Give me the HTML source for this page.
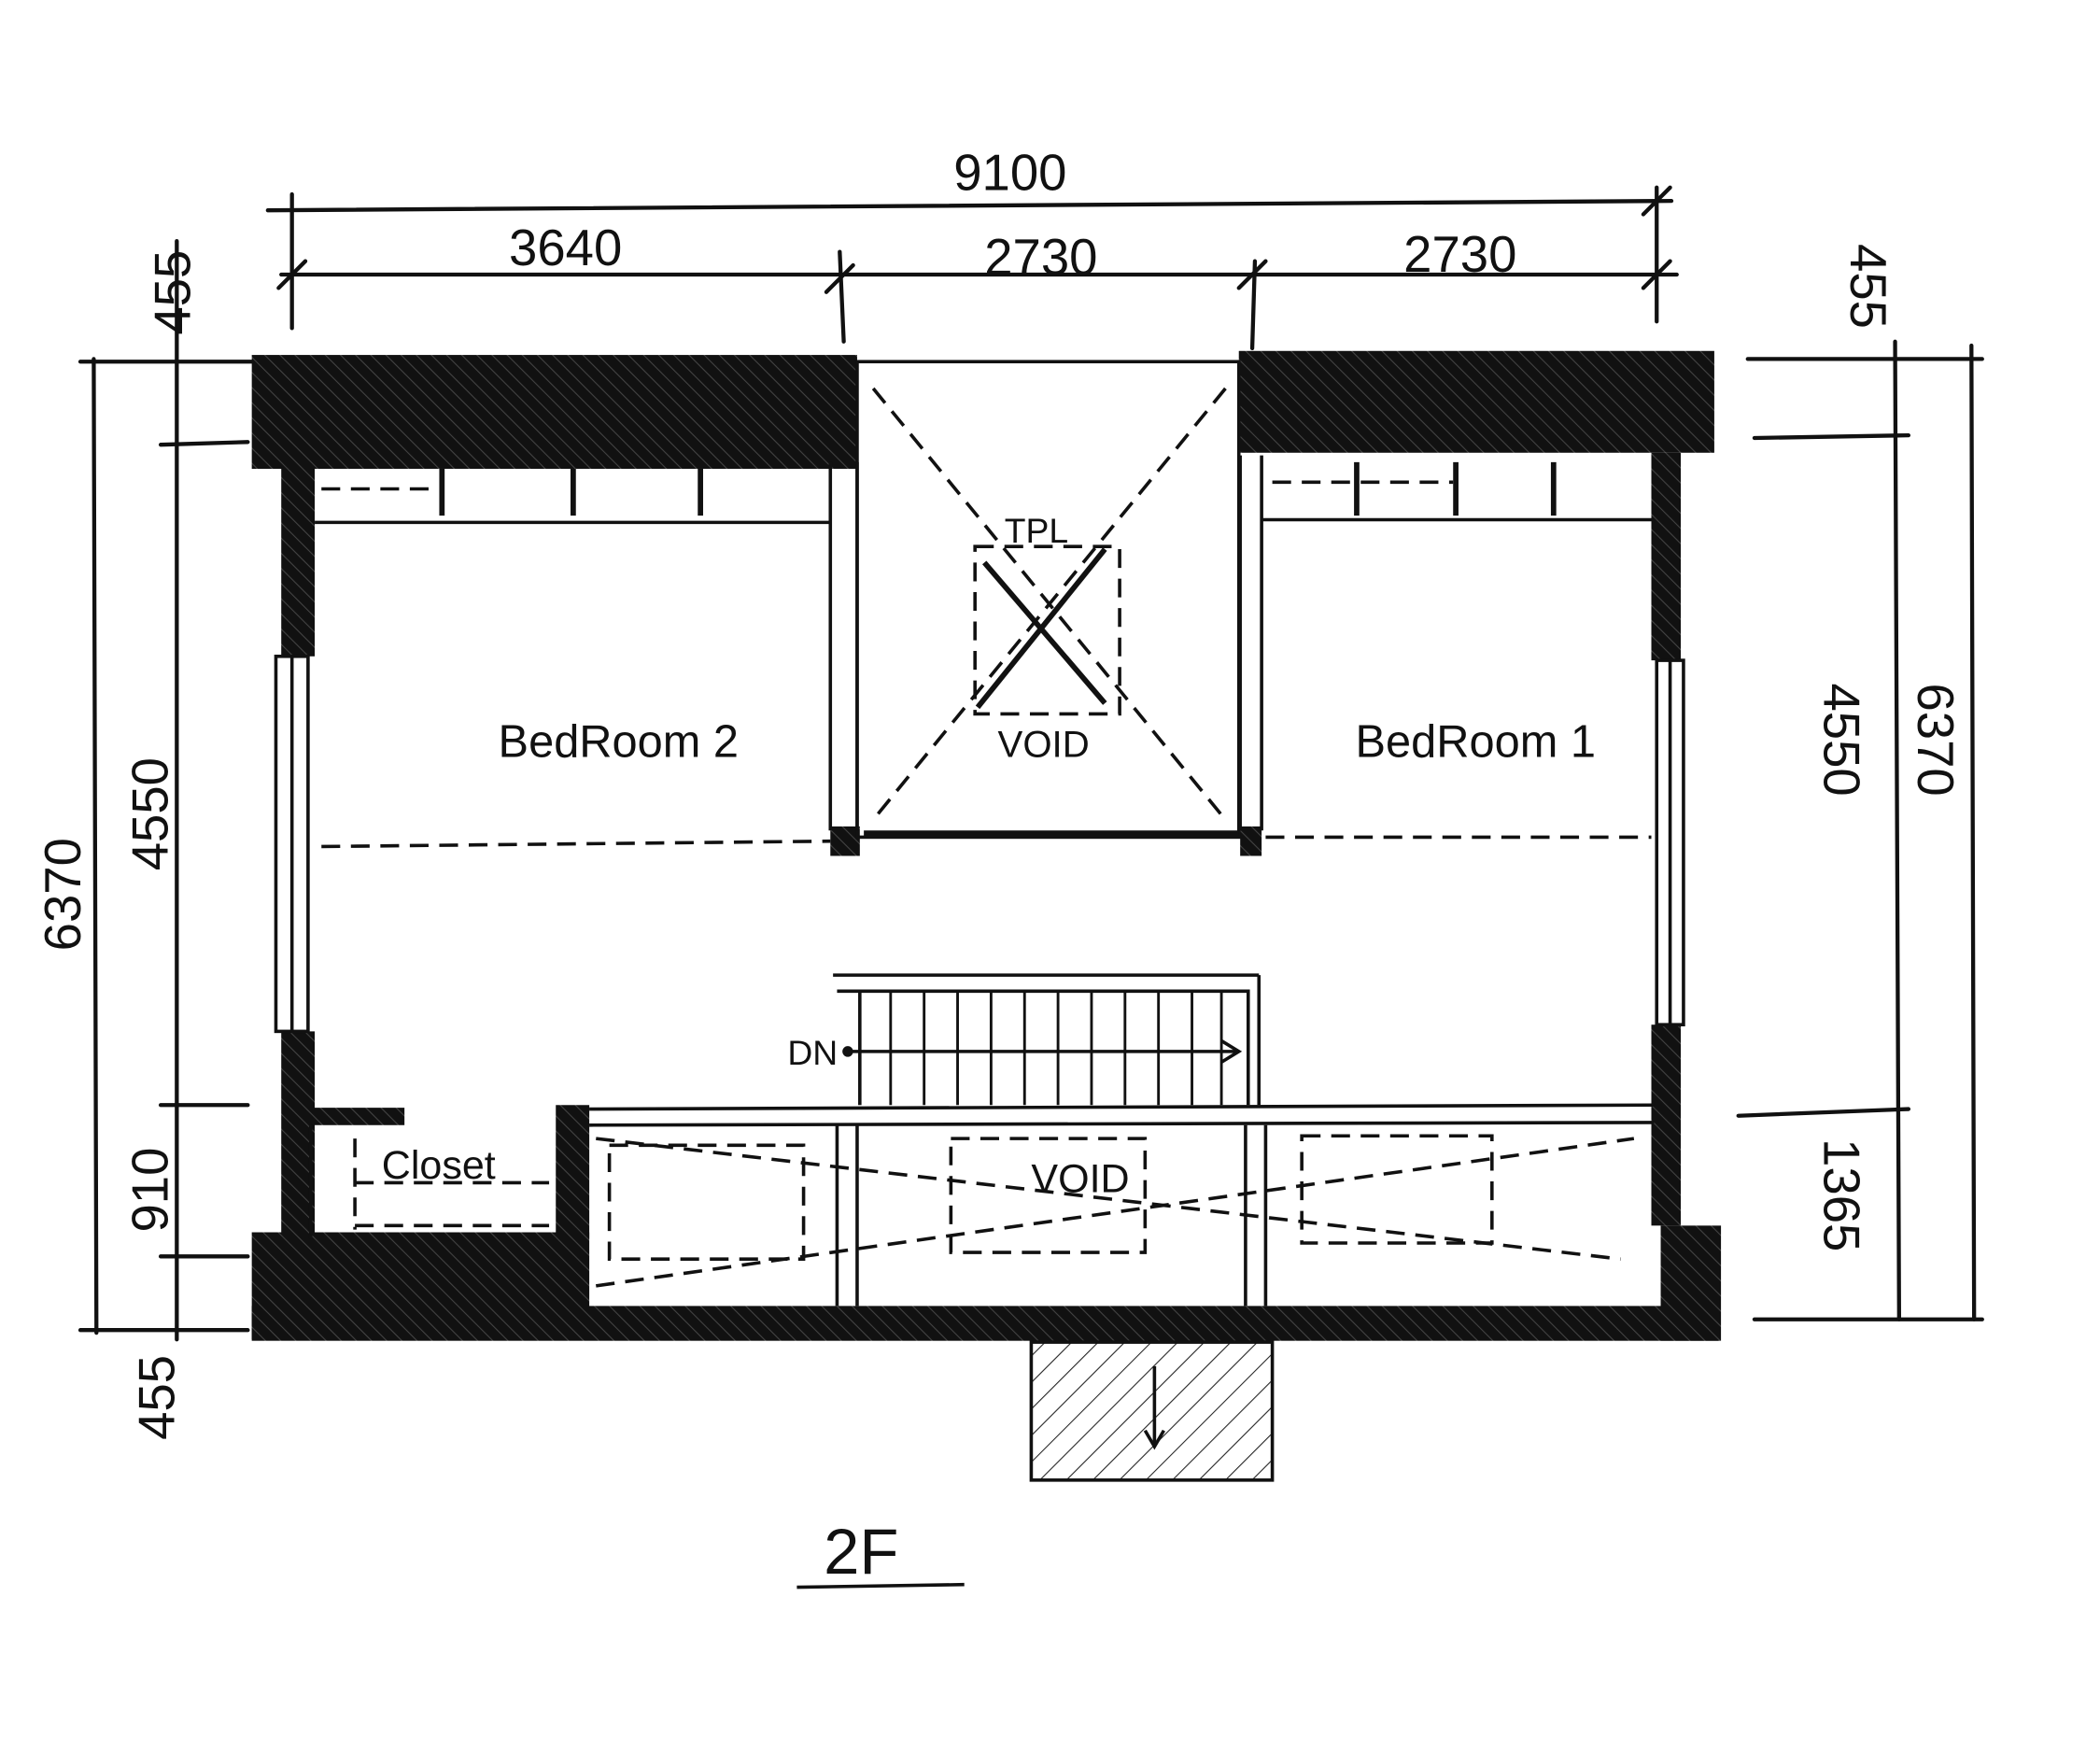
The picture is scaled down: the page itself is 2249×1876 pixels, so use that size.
<!DOCTYPE html>
<html><head><meta charset="utf-8"><style>
html,body{margin:0;padding:0;background:#fff;}
svg{display:block}
text{font-family:"Liberation Sans",sans-serif;fill:#111;}
</style></head><body>
<svg width="2249" height="1876" viewBox="0 0 1568 1308" preserveAspectRatio="none" xmlns="http://www.w3.org/2000/svg">
<defs>
<pattern id="h" width="8" height="8" patternUnits="userSpaceOnUse" patternTransform="rotate(-45)">
<rect width="8" height="8" fill="#111"/><line x1="0" y1="0" x2="0" y2="8" stroke="#444" stroke-width="1.5"/></pattern>
<pattern id="h2" width="14" height="14" patternUnits="userSpaceOnUse" patternTransform="rotate(45)">
<line x1="0" y1="0" x2="0" y2="14" stroke="#222" stroke-width="1.5"/></pattern>
</defs>
<g stroke="#111" stroke-width="3" fill="none" stroke-linecap="round">
<line x1="200" y1="157" x2="1248" y2="150"/>
<line x1="210" y1="205" x2="1252" y2="205"/>
<line x1="218" y1="145" x2="218" y2="245"/>
<line x1="627" y1="188" x2="630" y2="255"/>
<line x1="937" y1="195" x2="935" y2="260"/>
<line x1="1237" y1="140" x2="1237" y2="240"/>
<line x1="208" y1="215" x2="228" y2="195"/><line x1="617" y1="218" x2="637" y2="198"/>
<line x1="925" y1="215" x2="945" y2="195"/><line x1="1227" y1="215" x2="1247" y2="195"/>
<line x1="1227" y1="160" x2="1247" y2="140"/>
<line x1="70" y1="268" x2="72" y2="995"/>
<line x1="132" y1="180" x2="132" y2="1000"/>
<line x1="60" y1="270" x2="190" y2="270"/>
<line x1="120" y1="332" x2="185" y2="330"/>
<line x1="120" y1="825" x2="185" y2="825"/>
<line x1="120" y1="938" x2="185" y2="938"/>
<line x1="60" y1="993" x2="185" y2="993"/>
<line x1="1415" y1="255" x2="1418" y2="985"/>
<line x1="1472" y1="258" x2="1474" y2="985"/>
<line x1="1305" y1="268" x2="1480" y2="268"/>
<line x1="1310" y1="327" x2="1425" y2="325"/>
<line x1="1298" y1="833" x2="1425" y2="828"/>
<line x1="1310" y1="985" x2="1480" y2="985"/>
</g>
<g font-size="38">
<text x="712" y="142">9100</text>
<text x="380" y="198">3640</text>
<text x="735" y="205">2730</text>
<text x="1048" y="203">2730</text>
<text transform="translate(142,250) rotate(-90)">455</text>
<text transform="translate(1382,182) rotate(90)">455</text>
<text transform="translate(60,710) rotate(-90)">6370</text>
<text transform="translate(125,650) rotate(-90)">4550</text>
<text transform="translate(125,920) rotate(-90)">910</text>
<text transform="translate(130,1075) rotate(-90)">455</text>
<text transform="translate(1362,510) rotate(90)">4550</text>
<text transform="translate(1432,510) rotate(90)">6370</text>
<text transform="translate(1362,850) rotate(90)">1365</text>
</g>
<g fill="url(#h)">
<rect x="188" y="265" width="452" height="85"/>
<rect x="925" y="262" width="355" height="76"/>
<rect x="210" y="340" width="25" height="150"/>
<rect x="210" y="770" width="25" height="160"/>
<rect x="1233" y="338" width="22" height="155"/>
<rect x="1233" y="765" width="22" height="150"/>
<rect x="188" y="920" width="252" height="80"/>
<rect x="188" y="975" width="1095" height="26"/>
<rect x="1240" y="915" width="45" height="86"/>
<rect x="415" y="825" width="25" height="100"/>
<rect x="232" y="827" width="70" height="13"/>
<rect x="620" y="617" width="22" height="22"/>
<rect x="926" y="617" width="16" height="22"/>
</g>
<g stroke="#111" stroke-width="2.5" fill="none">
<rect x="640" y="270" width="285" height="355"/>
<line x1="620" y1="345" x2="620" y2="620"/><line x1="640" y1="345" x2="640" y2="620"/>
<line x1="926" y1="340" x2="926" y2="620"/><line x1="942" y1="340" x2="942" y2="620"/>
<line x1="645" y1="622" x2="925" y2="622" stroke-width="4"/>
<line x1="235" y1="390" x2="620" y2="390"/><line x1="942" y1="388" x2="1233" y2="388"/>
<line x1="330" y1="350" x2="330" y2="385" stroke-width="4"/><line x1="428" y1="350" x2="428" y2="385" stroke-width="4"/><line x1="523" y1="350" x2="523" y2="385" stroke-width="4"/>
<line x1="1013" y1="345" x2="1013" y2="385" stroke-width="4"/><line x1="1087" y1="345" x2="1087" y2="385" stroke-width="4"/><line x1="1160" y1="345" x2="1160" y2="385" stroke-width="4"/>
<rect x="206" y="490" width="24" height="280"/><line x1="218" y1="490" x2="218" y2="770"/>
<rect x="1237" y="493" width="20" height="272"/><line x1="1247" y1="493" x2="1247" y2="765"/>
<line x1="232" y1="840" x2="232" y2="925"/>
<g stroke-dasharray="14 8">
<line x1="240" y1="365" x2="325" y2="365"/><line x1="950" y1="360" x2="1085" y2="360"/>
<line x1="240" y1="632" x2="620" y2="628"/><line x1="945" y1="625" x2="1233" y2="625"/>
<rect x="728" y="408" width="108" height="125"/>
<line x1="652" y1="290" x2="915" y2="612"/><line x1="915" y1="290" x2="652" y2="612"/>
<line x1="265" y1="850" x2="265" y2="918"/><line x1="265" y1="883" x2="410" y2="883"/><line x1="265" y1="915" x2="410" y2="915"/>
<rect x="455" y="855" width="145" height="85"/><rect x="710" y="850" width="145" height="85"/><rect x="972" y="848" width="142" height="80"/>
<line x1="445" y1="850" x2="1210" y2="940"/><line x1="445" y1="960" x2="1220" y2="850"/>
</g>
<line x1="735" y1="420" x2="825" y2="525" stroke-width="4"/><line x1="825" y1="410" x2="730" y2="528" stroke-width="4"/>
<line x1="440" y1="828" x2="1235" y2="825"/><line x1="440" y1="840" x2="1235" y2="838"/>
<line x1="625" y1="840" x2="625" y2="975"/><line x1="640" y1="840" x2="640" y2="975"/>
<line x1="930" y1="840" x2="930" y2="975"/><line x1="945" y1="840" x2="945" y2="975"/>
<polyline points="622,728 940,728"/><polyline points="625,740 932,740 932,825"/><line x1="940" y1="728" x2="940" y2="825"/>
<line x1="642" y1="740" x2="642" y2="825"/>
<g stroke-width="2"><line x1="665" y1="740" x2="665" y2="825"/><line x1="690" y1="740" x2="690" y2="825"/><line x1="715" y1="740" x2="715" y2="825"/><line x1="740" y1="740" x2="740" y2="825"/><line x1="765" y1="740" x2="765" y2="825"/><line x1="790" y1="740" x2="790" y2="825"/><line x1="815" y1="740" x2="815" y2="825"/><line x1="840" y1="740" x2="840" y2="825"/><line x1="865" y1="740" x2="865" y2="825"/><line x1="890" y1="740" x2="890" y2="825"/><line x1="912" y1="740" x2="912" y2="825"/></g>
<line x1="635" y1="785" x2="925" y2="785"/><polyline points="912,777 925,785 912,793"/>
<rect x="770" y="1002" width="180" height="103" fill="url(#h2)"/>
<line x1="862" y1="1020" x2="862" y2="1080"/><polyline points="855,1068 862,1080 869,1068"/>
<line x1="595" y1="1185" x2="720" y2="1183"/>
</g>
<circle cx="633" cy="785" r="4" fill="#111"/>
<g font-size="34">
<text x="372" y="565">BedRoom 2</text>
<text x="1012" y="565">BedRoom 1</text>
<text x="285" y="880" font-size="30">Closet</text>
<text x="745" y="565" font-size="28">VOID</text>
<text x="750" y="405" font-size="26">TPL</text>
<text x="770" y="890" font-size="30">VOID</text>
<text x="588" y="795" font-size="26">DN</text>
<text x="615" y="1175" font-size="48">2F</text>
</g>
</svg>
</body></html>
